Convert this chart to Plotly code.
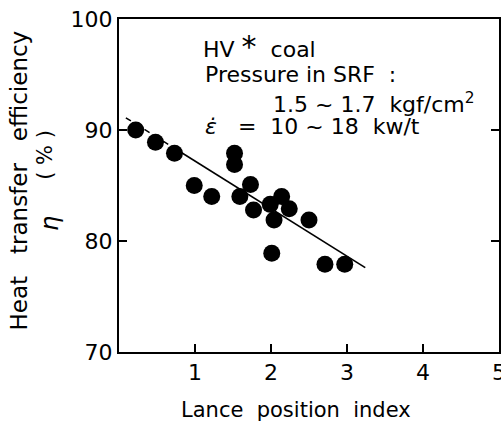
import plotly.graph_objects as go

# Data
lance_index = [0.22, 0.48, 0.73, 1.52, 1.52, 0.99, 1.22, 1.73, 1.59, 1.77,
               1.99, 2.14, 2.24, 2.04, 2.50, 2.01, 2.71, 2.97]
efficiency = [90.0, 88.9, 87.9, 87.9, 86.9, 85.0, 84.0, 85.1, 84.0, 82.8,
              83.3, 84.0, 82.9, 81.9, 81.9, 78.9, 77.9, 77.9]

fit_dash_x = [0.09, 0.82]
fit_dash_y = [91.1, 87.97]
fit_solid_x = [0.82, 3.24]
fit_solid_y = [87.97, 77.6]

x_ticks = [1, 2, 3, 4, 5]
y_ticks = [70, 80, 90, 100]

FONT = "DejaVu Sans"
NB = "\u00a0"

fig = go.Figure()
fig.add_trace(go.Scatter(x=fit_dash_x, y=fit_dash_y, mode="lines",
                         line=dict(color="black", width=1.5, dash="6px,5px"),
                         showlegend=False, hoverinfo="skip"))
fig.add_trace(go.Scatter(x=fit_solid_x, y=fit_solid_y, mode="lines",
                         line=dict(color="black", width=1.6),
                         showlegend=False, hoverinfo="skip"))
fig.add_trace(go.Scatter(x=lance_index, y=efficiency, mode="markers",
                         marker=dict(color="black", size=17),
                         showlegend=False))

def ann(text, x, y, size=22, angle=0, xanchor="left"):
    fig.add_annotation(text=text, x=x, y=y, xref="paper", yref="paper",
                       showarrow=False, textangle=angle, xanchor=xanchor,
                       yanchor="middle", font=dict(family=FONT, size=size, color="black"))

ann("HV" + NB + "<span style='font-size:30px'>*</span>" + NB * 2 + "coal", 0.215, 0.918)
ann("Pressure" + NB + "in" + NB + "SRF" + NB * 2 + ":", 0.222, 0.832)
ann("1.5" + NB + "~" + NB + "1.7" + NB * 2 + "kgf/cm<sup>2</sup>", 0.400, 0.748)
ann("<i>ε̇</i>" + NB * 3 + "=" + NB * 2 + "10" + NB + "~" + NB + "18" + NB * 2 + "kw/t", 0.222, 0.676)

ann("Heat" + NB * 3 + "transfer" + NB * 3 + "efficiency", -0.262, 0.5165, size=23, angle=-90, xanchor="center")
ann("(" + NB + "%" + NB + ")", -0.195, 0.592, size=21, angle=-90, xanchor="center")
ann("<i>η</i>", -0.182, 0.387, size=24, angle=-90, xanchor="center")
ann("Lance" + NB * 2 + "position" + NB * 2 + "index", 0.466, -0.174, size=21, xanchor="center")

fig.update_layout(
    width=501, height=424,
    margin=dict(l=119, r=2, t=19, b=72),
    paper_bgcolor="white", plot_bgcolor="white",
    font=dict(family=FONT, size=21, color="black"),
    xaxis=dict(range=[0, 5], tickvals=x_ticks, ticks="inside", ticklen=8,
               tickwidth=1.5, tickcolor="black", showline=True, linewidth=2,
               linecolor="black", mirror=True, showgrid=False, zeroline=False,
               tickfont=dict(size=22), automargin=False, ticklabeloverflow="allow"),
    yaxis=dict(range=[70, 100], tickvals=y_ticks, ticks="inside", ticklen=8,
               tickwidth=1.5, tickcolor="black", showline=True, linewidth=2,
               linecolor="black", mirror="ticks", showgrid=False, zeroline=False,
               tickfont=dict(size=22), automargin=False, ticklabeloverflow="allow"),
)

fig.write_html(
    "out.html",
    config={"displayModeBar": False},
    post_script="document.body.style.margin='0';document.body.style.overflow='hidden';",
)
